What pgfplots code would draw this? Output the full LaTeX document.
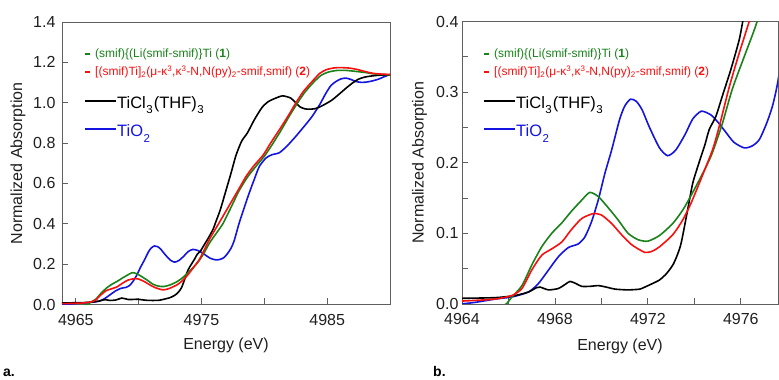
\documentclass[border=0pt]{standalone}
\usepackage{pgfplots}
\pgfplotsset{compat=1.18}
\usepackage{pgfplotstable}
\usepackage{fontspec}
\setmainfont{Liberation Sans}

\definecolor{cgreen}{RGB}{25,130,25}
\definecolor{cred}{RGB}{250,15,15}
\definecolor{cblue}{RGB}{20,20,225}
\definecolor{frame}{RGB}{95,95,95}

\newcommand{\lowsub}[1]{\hspace{0.5pt}\raisebox{-5.5pt}{\fontsize{11.5}{12}\selectfont #1}\hspace{1pt}}

\pgfplotstableread{
x y
4963.9 -0.010
4965.0 -0.008
4965.6 -0.004
4965.9 0.000
4966.15 0.010
4966.58 0.026
4967.0 0.055
4967.43 0.081
4967.86 0.100
4968.3 0.115
4968.7 0.131
4969.15 0.147
4969.5 0.158
4969.87 0.152
4970.3 0.136
4970.72 0.119
4971.15 0.100
4971.58 0.091
4972.0 0.089
4972.5 0.097
4973.07 0.114
4973.5 0.133
4973.93 0.158
4974.36 0.185
4974.75 0.212
4975.2 0.255
4975.64 0.305
4976.2 0.355
4976.7 0.400
4977.3 0.475
4978.0 0.565
4978.7 0.635
4979.4 0.690
4980.0 0.735
4980.6 0.790
4981.3 0.860
4982.0 0.935
4982.6 0.995
4983.2 1.050
4983.9 1.100
4984.5 1.135
4985.1 1.152
4985.8 1.160
4986.5 1.160
4987.3 1.155
4988.0 1.150
4988.7 1.143
4989.4 1.140
4990.0 1.138
}\greendata

\pgfplotstableread{
x y
4963.9 0.004
4964.5 0.005
4965.43 0.007
4966.15 0.012
4966.58 0.022
4967.0 0.048
4967.43 0.069
4967.86 0.078
4968.3 0.088
4968.7 0.105
4969.15 0.121
4969.65 0.128
4970.0 0.126
4970.44 0.114
4970.87 0.098
4971.3 0.084
4971.87 0.073
4972.2 0.075
4972.5 0.081
4973.07 0.098
4973.5 0.119
4973.86 0.143
4974.36 0.183
4974.8 0.220
4975.1 0.255
4975.5 0.307
4975.9 0.352
4976.36 0.400
4977.2 0.490
4977.9 0.565
4978.55 0.635
4979.2 0.690
4979.9 0.740
4980.5 0.800
4981.2 0.866
4981.9 0.935
4982.5 0.998
4983.1 1.055
4983.8 1.105
4984.4 1.145
4984.9 1.163
4985.5 1.172
4986.0 1.174
4986.7 1.172
4987.3 1.166
4988.0 1.155
4988.6 1.146
4989.3 1.142
4990.0 1.140
}\reddata

\pgfplotstableread{
x y
4963.9 0.000
4964.5 0.002
4965.43 0.007
4966.15 0.010
4966.86 0.017
4967.29 0.029
4967.72 0.048
4968.15 0.067
4968.58 0.080
4969.0 0.085
4969.29 0.095
4969.58 0.117
4969.87 0.148
4970.15 0.185
4970.44 0.218
4970.78 0.261
4971.0 0.280
4971.25 0.290
4971.5 0.287
4971.75 0.275
4972.07 0.250
4972.5 0.221
4972.85 0.210
4973.2 0.218
4973.6 0.240
4973.93 0.262
4974.3 0.273
4974.7 0.268
4975.0 0.258
4975.36 0.243
4975.7 0.229
4976.15 0.221
4976.5 0.224
4976.8 0.233
4977.1 0.255
4977.36 0.280
4977.6 0.316
4978.0 0.404
4978.4 0.480
4978.8 0.553
4979.2 0.620
4979.6 0.684
4980.13 0.726
4980.6 0.742
4981.19 0.752
4981.8 0.785
4982.5 0.833
4983.2 0.885
4983.8 0.932
4984.4 0.990
4984.9 1.047
4985.3 1.085
4985.7 1.105
4986.1 1.118
4986.5 1.122
4986.9 1.115
4987.3 1.105
4987.7 1.101
4988.1 1.102
4988.6 1.108
4989.1 1.117
4989.5 1.128
4990.0 1.140
}\bluedata

\pgfplotstableread{
x y
4963.9 0.008
4965.43 0.009
4966.29 0.012
4966.86 0.017
4967.2 0.023
4967.36 0.024
4967.72 0.020
4968.15 0.022
4968.45 0.028
4968.65 0.032
4968.9 0.029
4969.15 0.025
4969.5 0.025
4969.87 0.026
4970.2 0.024
4970.6 0.021
4971.15 0.020
4971.64 0.021
4971.87 0.024
4972.2 0.029
4972.5 0.034
4972.8 0.043
4973.07 0.055
4973.25 0.068
4973.43 0.086
4973.71 0.133
4973.93 0.171
4974.2 0.200
4974.45 0.225
4974.64 0.247
4974.93 0.266
4975.2 0.294
4975.57 0.332
4975.93 0.374
4976.1 0.403
4976.5 0.470
4976.9 0.555
4977.3 0.640
4977.75 0.740
4978.2 0.810
4978.65 0.850
4979.2 0.915
4979.8 0.975
4980.3 1.005
4980.8 1.020
4981.45 1.034
4982.1 1.023
4982.5 1.000
4982.8 0.981
4983.2 0.970
4983.57 0.968
4984.0 0.970
4984.37 0.978
4984.9 0.995
4985.4 1.014
4986.0 1.045
4986.5 1.072
4987.0 1.097
4987.5 1.117
4988.0 1.127
4988.6 1.133
4989.3 1.137
4990.0 1.138
}\blackdata

\pgfplotsset{myaxis/.style={
  scale only axis, anchor=south west,
  axis line style={frame, line width=0.8pt},
  tick style={frame, line width=0.8pt},
  tick align=inside, tick pos=left,
  major tick length=6pt, minor tick length=6pt,
  ticklabel style={font=\fontsize{16}{18}\selectfont, text=black!88},
  label style={font=\fontsize{16}{18}\selectfont, text=black!88},
  /pgf/number format/assume math mode=true,
  x tick label style={yshift=-6pt, /pgf/number format/set thousands separator={}},
  y tick label style={/pgf/number format/fixed, /pgf/number format/fixed zerofill, /pgf/number format/precision=1},
  xlabel={Energy (eV)}, ylabel={Normalized Absorption},
  every axis plot/.append style={line width=1.6pt, smooth, tension=0.4, no marks},
}}

\begin{document}
\begin{tikzpicture}
\path[use as bounding box] (0pt,0pt) rectangle (779pt,380pt);

\begin{axis}[myaxis, at={(62pt,75.5pt)}, width=328pt, height=282.5pt,
  xmin=4963.9, xmax=4990, ymin=0, ymax=1.4,
  xtick={4965,4975,4985}, minor xtick={4970,4980},
  ytick={0,0.2,0.4,0.6,0.8,1.0,1.2,1.4},
  y tick label style={xshift=-3pt},
  xlabel style={at={(axis description cs:0.5,-0.144)}, anchor=center},
  ylabel style={at={(axis description cs:-0.134,0.5)}, anchor=center}]
\addplot[cblue] table {\bluedata};
\addplot[black] table {\blackdata};
\addplot[cgreen] table {\greendata};
\addplot[cred] table {\reddata};
\end{axis}

\begin{axis}[myaxis, at={(462pt,76pt)}, width=316pt, height=282.5pt,
  xmin=4964, xmax=4977.6, ymin=0, ymax=0.4,
  xtick={4964,4968,4972,4976}, minor xtick={4966,4970,4974},
  ytick={0,0.1,0.2,0.3,0.4}, minor ytick={0.05,0.15,0.25,0.35},
  xlabel style={at={(axis description cs:0.5,-0.151)}, anchor=center},
  ylabel style={at={(axis description cs:-0.1345,0.5)}, anchor=center}]
\addplot[cblue] table {\bluedata};
\addplot[black] table {\blackdata};
\addplot[cgreen] table {\greendata};
\addplot[cred] table {\reddata};
\end{axis}

\begin{scope}[x=1pt,y=1pt]
\foreach \dx in {0,399} {
  \draw[cgreen, line width=1.8pt] (85+\dx,326) -- (90+\dx,326);
  \node[anchor=base west, inner sep=0, text=cgreen, font=\fontsize{12}{14}\selectfont] at (95+\dx,322.5) {(smif)\{(Li(smif-smif)\}Ti (\textbf{1})};
  \draw[cred, line width=1.8pt] (85+\dx,307.7) -- (90+\dx,307.7);
  \node[anchor=base west, inner sep=0, text=cred, font=\fontsize{12}{14}\selectfont] at (95+\dx,304) {[(smif)Ti]\textsubscript{2}(μ-κ\textsuperscript{3},κ\textsuperscript{3}-N,N(py)\textsubscript{2}-smif,smif) (\textbf{2})};
  \draw[black, line width=1.6pt] (85+\dx,279) -- (116+\dx,279);
  \node[anchor=base west, inner sep=0, text=black, font=\fontsize{16.5}{18}\selectfont] at (117+\dx,271.7) {TiCl\lowsub{3}(THF)\lowsub{3}};
  \draw[cblue, line width=1.6pt] (85+\dx,250.7) -- (116+\dx,250.7);
  \node[anchor=base west, inner sep=0, text=cblue, font=\fontsize{16.5}{18}\selectfont] at (117+\dx,243.3) {TiO\lowsub{2}};
}
\node[anchor=base west, inner sep=0, font=\fontsize{14}{16}\selectfont\bfseries] at (3,3) {a.};
\node[anchor=base west, inner sep=0, font=\fontsize{14}{16}\selectfont\bfseries] at (433,3) {b.};
\end{scope}
\end{tikzpicture}
\end{document}
